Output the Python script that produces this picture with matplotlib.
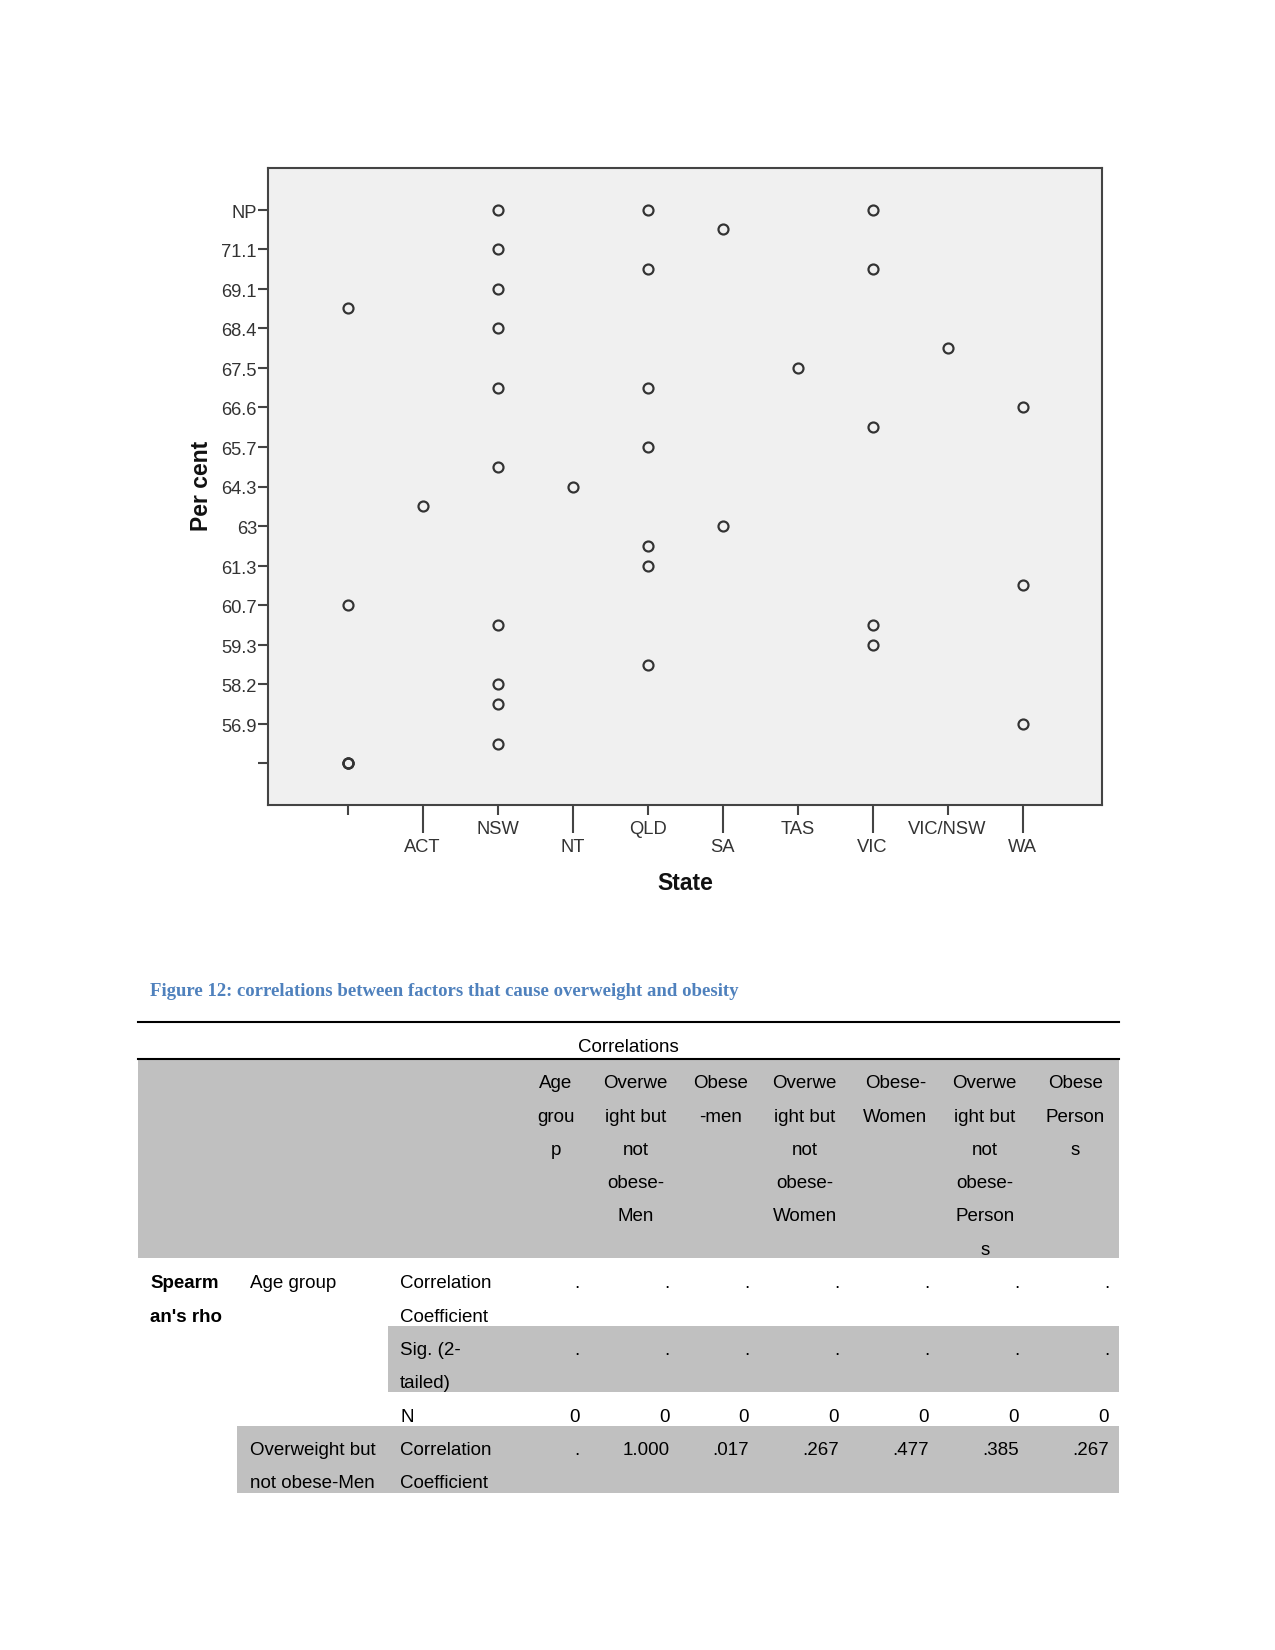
import matplotlib
matplotlib.use("Agg")
import matplotlib.pyplot as plt
import matplotlib.transforms as mtransforms
from matplotlib.patches import Rectangle
from matplotlib.lines import Line2D
from matplotlib.ticker import FixedLocator, FixedFormatter

# Scatter data: state categories and the level index of each point
states = ["", "ACT", "NSW", "NT", "QLD", "SA", "TAS", "VIC", "VIC/NSW", "WA"]
percent_levels = [
    [23, 8, 0, 0, 0],
    [13],
    [28, 26, 24, 22, 19, 15, 7, 4, 3, 1],
    [14],
    [28, 25, 19, 16, 11, 10, 5],
    [27, 12],
    [20],
    [28, 25, 17, 7, 6],
    [21],
    [18, 9, 2],
]
y_labels = ["", "56.9", "58.2", "59.3", "60.7", "61.3", "63", "64.3",
            "65.7", "66.6", "67.5", "68.4", "69.1", "71.1", "NP"]

caption = "Figure 12: correlations between factors that cause overweight and obesity"
table_title = "Correlations"
col_headers = [
    ["Age", "grou", "p"],
    ["Overwe", "ight but", "not", "obese-", "Men"],
    ["Obese", "-men"],
    ["Overwe", "ight but", "not", "obese-", "Women"],
    ["Obese-", "Women"],
    ["Overwe", "ight but", "not", "obese-", "Person", "s"],
    ["Obese", "Person", "s"],
]
age_corr = [".", ".", ".", ".", ".", ".", "."]
age_sig = [".", ".", ".", ".", ".", ".", "."]
age_n = ["0", "0", "0", "0", "0", "0", "0"]
ow_men_corr = [".", "1.000", ".017", ".267", ".477", ".385", ".267"]

W, H = 1275, 1650
fig = plt.figure(figsize=(W / 150, H / 150), dpi=150)


def fx(x):
    return x / W


def fy(y):
    return 1 - y / H


# ---- scatter chart ----
ax = fig.add_axes([fx(268), fy(805), fx(1102) - fx(268), fy(168) - fy(805)])
ax.set_facecolor("#f0f0f0")
for i, lv in enumerate(percent_levels):
    ax.plot([i] * len(lv), lv, "o", ms=4.8, mfc="none", mec="#333333", mew=1.05)

ax.set_xlim(-1.06, 10.06)
ax.set_ylim(-2.1, 30.1)
for s in ax.spines.values():
    s.set_color("#444444")
    s.set_linewidth(1.0)

# even categories: short ticks, odd: long ticks
ax.xaxis.set_major_locator(FixedLocator(range(0, 10, 2)))
ax.xaxis.set_major_formatter(FixedFormatter(states[0::2]))
ax.xaxis.set_minor_locator(FixedLocator(range(1, 10, 2)))
ax.xaxis.set_minor_formatter(FixedFormatter(states[1::2]))
ax.tick_params(axis="x", which="major", length=4.8, width=1.0, color="#444444",
               pad=3.0, labelcolor="#333333")
ax.tick_params(axis="x", which="minor", length=13.4, width=1.0, color="#444444",
               pad=3.0, labelcolor="#333333")
for lab in ax.get_xticklabels(which="both"):
    lab.set_fontfamily("Liberation Sans")
    lab.set_fontsize(8.8)

ax.set_yticks(range(0, 29, 2))
ax.set_yticklabels(y_labels, family="Liberation Sans", size=8.8, color="#333333")
ax.tick_params(axis="y", length=4.8, width=1.0, color="#444444", pad=0.5)
ax.yaxis.set_minor_locator(FixedLocator([]))
shift = mtransforms.ScaledTranslation(0, -1.5 / 150, fig.dpi_scale_trans)
for lab in ax.get_yticklabels():
    lab.set_transform(lab.get_transform() + shift)

fig.text(fx(201.7), fy(486), "Per cent", rotation=90, ha="center", va="center",
         family="Liberation Sans", weight="bold", size=11, color="#111111")
fig.text(fx(685), fy(884), "State", ha="center", va="center",
         family="Liberation Sans", weight="bold", size=11, color="#111111")

# ---- caption ----
fig.text(fx(150.4), fy(991.5), caption, ha="left", va="center",
         family="Liberation Serif", weight="bold", size=9, color="#4F81BD")

# ---- table ----
gray = "#c0c0c0"
L, R = 138, 1119
dy = 1.0


def band(x0, y0, x1, y1):
    fig.patches.append(Rectangle((fx(x0), fy(y1)), fx(x1) - fx(x0), fy(y0) - fy(y1),
                                 transform=fig.transFigure, facecolor=gray,
                                 edgecolor="none", zorder=0))


def hline(y, lw):
    fig.add_artist(Line2D([fx(L), fx(R)], [fy(y), fy(y)], color="black", lw=lw))


def txt(x, y, s, ha="left", bold=False):
    fig.text(fx(x), fy(y + dy), s, ha=ha, va="center", family="Liberation Sans",
             size=9, weight="bold" if bold else "normal", color="black")


band(L, 1059, R, 1258)
band(388, 1326, R, 1392)
band(237, 1426, R, 1493)
hline(1022, 1.0)
hline(1059, 1.0)

txt(628.5, 1046.5, table_title, ha="center")

col_centers = [555.5, 635.4, 720.6, 804.8, 895.3, 984.7, 1075.2]
col_rights = [580, 670, 749, 839, 929, 1019, 1109]
line_h = 33.3
for cx, lines in zip(col_centers, col_headers):
    for k, s in enumerate(lines):
        txt(cx, 1082.7 + k * line_h, s, ha="center")

txt(150.4, 1283, "Spearm", bold=True)
txt(150.4, 1316.3, "an's rho", bold=True)
txt(250.4, 1283, "Age group")
txt(400, 1283, "Correlation")
txt(400, 1316.3, "Coefficient")
txt(400, 1349.6, "Sig. (2-")
txt(400, 1383, "tailed)")
txt(400, 1416.3, "N")
txt(250.4, 1449.6, "Overweight but")
txt(250.4, 1483, "not obese-Men")
txt(400, 1449.6, "Correlation")
txt(400, 1483, "Coefficient")

for rx, a, b, c, d in zip(col_rights, age_corr, age_sig, age_n, ow_men_corr):
    txt(rx, 1283, a, ha="right")
    txt(rx, 1349.6, b, ha="right")
    txt(rx, 1416.3, c, ha="right")
    txt(rx, 1449.6, d, ha="right")

fig.savefig("out.png", dpi=150)
